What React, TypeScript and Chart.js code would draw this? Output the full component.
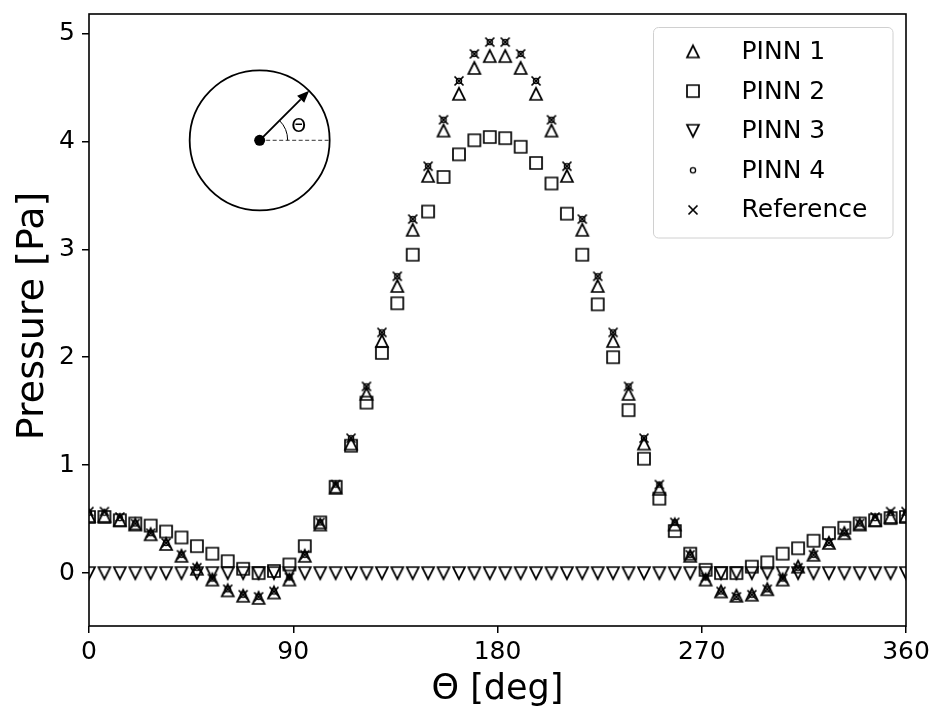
import React, { useEffect, useRef } from "react";
import { Chart, registerables } from "chart.js";

Chart.register(...registerables);

// ---- data ----
const thetaDeg = [
  0, 6.79, 13.58, 20.38, 27.17, 33.96, 40.75, 47.55, 54.34, 61.13, 67.92, 74.72, 81.51, 88.3,
  95.09, 101.89, 108.68, 115.47, 122.26, 129.06, 135.85, 142.64, 149.43, 156.23, 163.02, 169.81, 176.6,
  183.4, 190.19, 196.98, 203.77, 210.57, 217.36, 224.15, 230.94, 237.74, 244.53, 251.32, 258.11, 264.91,
  271.7, 278.49, 285.28, 292.08, 298.87, 305.66, 312.45, 319.25, 326.04, 332.83, 339.62, 346.42, 353.21, 360,
];

const pinn1 = [
  0.53, 0.53, 0.49, 0.45, 0.36, 0.27, 0.16, 0.04, -0.06, -0.16, -0.21, -0.23, -0.18, -0.06,
  0.16, 0.45, 0.79, 1.2, 1.66, 2.15, 2.66, 3.18, 3.68, 4.1, 4.44, 4.68, 4.79,
  4.79, 4.68, 4.44, 4.1, 3.68, 3.18, 2.66, 2.15, 1.66, 1.2, 0.78, 0.45, 0.16,
  -0.06, -0.17, -0.21, -0.2, -0.15, -0.06, 0.06, 0.17, 0.28, 0.37, 0.45, 0.49, 0.52, 0.53,
];

const pinn2 = [
  0.52, 0.52, 0.49, 0.46, 0.44, 0.385, 0.33, 0.25, 0.18, 0.11, 0.04, 0.0, 0.02, 0.08,
  0.25, 0.47, 0.8, 1.18, 1.58, 2.04, 2.5, 2.95, 3.35, 3.67, 3.88, 4.01, 4.04,
  4.03, 3.95, 3.8, 3.61, 3.33, 2.95, 2.49, 2.0, 1.51, 1.06, 0.69, 0.39, 0.18,
  0.03, 0.0, 0.0, 0.06, 0.1, 0.18, 0.23, 0.3, 0.37, 0.42, 0.46, 0.49, 0.51, 0.52,
];

const pinn3 = [
  0, 0, 0, 0, 0, 0, 0, 0, 0, 0, 0, 0, 0, 0,
  0, 0, 0, 0, 0, 0, 0, 0, 0, 0, 0, 0, 0,
  0, 0, 0, 0, 0, 0, 0, 0, 0, 0, 0, 0, 0,
  0, 0, 0, 0, 0, 0, 0, 0, 0, 0, 0, 0, 0, 0,
];

const pinn4 = [
  0.56, 0.56, 0.51, 0.46, 0.37, 0.28, 0.17, 0.05, -0.05, -0.15, -0.2, -0.22, -0.17, -0.04,
  0.17, 0.47, 0.82, 1.25, 1.73, 2.23, 2.75, 3.28, 3.77, 4.2, 4.56, 4.81, 4.92,
  4.92, 4.81, 4.56, 4.2, 3.77, 3.28, 2.75, 2.23, 1.73, 1.25, 0.82, 0.47, 0.17,
  -0.04, -0.17, -0.22, -0.2, -0.15, -0.05, 0.05, 0.17, 0.28, 0.37, 0.46, 0.51, 0.56, 0.56,
];

const reference = [
  0.57, 0.57, 0.52, 0.46, 0.37, 0.28, 0.17, 0.05, -0.05, -0.15, -0.2, -0.22, -0.17, -0.04,
  0.17, 0.47, 0.82, 1.25, 1.73, 2.23, 2.75, 3.28, 3.77, 4.2, 4.56, 4.81, 4.92,
  4.92, 4.81, 4.56, 4.2, 3.77, 3.28, 2.75, 2.23, 1.73, 1.25, 0.82, 0.47, 0.17,
  -0.04, -0.17, -0.22, -0.2, -0.15, -0.05, 0.05, 0.17, 0.28, 0.37, 0.46, 0.52, 0.57, 0.57,
];

const seriesLabels = ["PINN 1", "PINN 2", "PINN 3", "PINN 4", "Reference"];
const seriesMarkers = ["triUp", "square", "triDown", "circle", "cross"];
const xTicks = [0, 90, 180, 270, 360];
const yTicks = [0, 1, 2, 3, 4, 5];
const xLimits = [0, 360];
const yLimits = [-0.49, 5.18];
const xTitle = "Θ [deg]";
const yTitle = "Pressure [Pa]";
const insetLabel = "Θ";
const insetCenter = [75.2, 4.01];

const FONT = "'DejaVu Sans', sans-serif";

function makeMarker(kind: string): HTMLCanvasElement {
  const s = 22;
  const c = document.createElement("canvas");
  c.width = s;
  c.height = s;
  const ctx = c.getContext("2d")!;
  const m = s / 2;
  ctx.strokeStyle = "#000";
  ctx.lineWidth = 1.7;
  ctx.lineJoin = "miter";
  ctx.beginPath();
  if (kind === "triUp") {
    const h = 6;
    ctx.moveTo(m, m - h);
    ctx.lineTo(m - h, m + h);
    ctx.lineTo(m + h, m + h);
    ctx.closePath();
  } else if (kind === "triDown") {
    const h = 6;
    ctx.moveTo(m, m + h);
    ctx.lineTo(m - h, m - h);
    ctx.lineTo(m + h, m - h);
    ctx.closePath();
  } else if (kind === "square") {
    const h = 6;
    ctx.rect(m - h, m - h, 2 * h, 2 * h);
  } else if (kind === "circle") {
    ctx.lineWidth = 1.3;
    ctx.arc(m, m, 2.6, 0, Math.PI * 2);
  } else if (kind === "cross") {
    const h = 4.5;
    ctx.moveTo(m - h, m - h);
    ctx.lineTo(m + h, m + h);
    ctx.moveTo(m - h, m + h);
    ctx.lineTo(m + h, m - h);
  }
  ctx.stroke();
  return c;
}

export default function App() {
  const canvasRef = useRef<HTMLCanvasElement | null>(null);

  useEffect(() => {
    const canvas = canvasRef.current;
    if (!canvas) return;
    const markers = seriesMarkers.map((k) => makeMarker(k));
    const values = [pinn1, pinn2, pinn3, pinn4, reference];

    const datasets = values.map((vals, i) => ({
      label: seriesLabels[i],
      data: thetaDeg.map((x, j) => ({ x, y: vals[j] })),
      pointStyle: markers[i],
      pointRadius: 7,
      pointHoverRadius: 7,
      showLine: false,
      order: values.length - i,
    }));

    const framePlugin = {
      id: "frame",
      afterDraw(chart: any) {
        const { ctx, chartArea: a } = chart;
        ctx.save();
        ctx.strokeStyle = "#000";
        ctx.lineWidth = 1.6;
        ctx.strokeRect(a.left, a.top, a.right - a.left, a.bottom - a.top);
        ctx.restore();
      },
    };

    const titlePlugin = {
      id: "titles",
      afterDraw(chart: any) {
        const { ctx, chartArea: a } = chart;
        ctx.save();
        ctx.fillStyle = "#000";
        ctx.textAlign = "center";
        ctx.textBaseline = "middle";
        ctx.font = `35px ${FONT}`;
        ctx.fillText(xTitle, (a.left + a.right) / 2, 690);
        ctx.font = `38px ${FONT}`;
        ctx.translate(33, (a.top + a.bottom) / 2 - 4);
        ctx.rotate(-Math.PI / 2);
        ctx.fillText(yTitle, 0, 0);
        ctx.restore();
      },
    };

    const insetPlugin = {
      id: "inset",
      afterDraw(chart: any) {
        const { ctx } = chart;
        const xs = chart.scales.x;
        const ys = chart.scales.y;
        const cx = xs.getPixelForValue(insetCenter[0]);
        const cy = ys.getPixelForValue(insetCenter[1]);
        const R = 70;
        ctx.save();
        ctx.strokeStyle = "#000";
        ctx.lineWidth = 1.8;
        ctx.beginPath();
        ctx.arc(cx, cy, R, 0, Math.PI * 2);
        ctx.stroke();
        ctx.lineWidth = 1;
        ctx.strokeStyle = "#333";
        ctx.setLineDash([4, 2.5]);
        ctx.beginPath();
        ctx.moveTo(cx, cy);
        ctx.lineTo(cx + R, cy);
        ctx.stroke();
        ctx.setLineDash([]);
        ctx.strokeStyle = "#000";
        ctx.beginPath();
        ctx.arc(cx, cy, 28, -Math.PI / 4, 0);
        ctx.stroke();
        const ang = -Math.PI / 4;
        const tx = cx + R * Math.cos(ang);
        const ty = cy + R * Math.sin(ang);
        const headL = 12;
        const headW = 5;
        const bx = tx - headL * Math.cos(ang);
        const by = ty - headL * Math.sin(ang);
        ctx.lineWidth = 1.8;
        ctx.beginPath();
        ctx.moveTo(cx, cy);
        ctx.lineTo(bx, by);
        ctx.stroke();
        ctx.fillStyle = "#000";
        ctx.beginPath();
        ctx.moveTo(tx, ty);
        ctx.lineTo(bx + headW * Math.sin(ang), by - headW * Math.cos(ang));
        ctx.lineTo(bx - headW * Math.sin(ang), by + headW * Math.cos(ang));
        ctx.closePath();
        ctx.fill();
        ctx.beginPath();
        ctx.arc(cx, cy, 5.5, 0, Math.PI * 2);
        ctx.fill();
        ctx.font = `19px ${FONT}`;
        ctx.textAlign = "center";
        ctx.textBaseline = "middle";
        ctx.fillText(insetLabel, cx + 39, cy - 13);
        ctx.restore();
      },
    };

    const legendPlugin = {
      id: "customLegend",
      afterDraw(chart: any) {
        const { ctx, chartArea: a } = chart;
        const bx = a.right - 252.5;
        const by = a.top + 13.5;
        const bw = 239.5;
        const bh = 210.5;
        ctx.save();
        ctx.beginPath();
        (ctx as any).roundRect(bx, by, bw, bh, 5);
        ctx.fillStyle = "rgba(255,255,255,0.8)";
        ctx.fill();
        ctx.strokeStyle = "#d0d0d0";
        ctx.lineWidth = 1;
        ctx.stroke();
        ctx.font = `25px ${FONT}`;
        ctx.fillStyle = "#000";
        ctx.textAlign = "left";
        ctx.textBaseline = "middle";
        seriesLabels.forEach((lab, i) => {
          const ry = by + 24 + i * 39.6;
          const mk = markers[i];
          ctx.drawImage(mk, bx + 39.5 - mk.width / 2, ry - mk.height / 2);
          ctx.fillText(lab, bx + 88, ry + 1);
        });
        ctx.restore();
      },
    };

    const tickFont = { family: FONT, size: 25 };

    const chart = new Chart(canvas, {
      type: "scatter",
      data: { datasets: datasets as any },
      options: {
        animation: false,
        responsive: true,
        maintainAspectRatio: false,
        layout: { padding: { top: 14, right: 28, left: 0, bottom: 0 } },
        plugins: { legend: { display: false }, tooltip: { enabled: false } },
        scales: {
          x: {
            type: "linear",
            min: xLimits[0],
            max: xLimits[1],
            afterBuildTicks: (s: any) => {
              s.ticks = xTicks.map((v) => ({ value: v }));
            },
            afterFit: (s: any) => {
              s.height = 84;
              s.paddingLeft = 0;
              s.paddingRight = 0;
            },
            grid: {
              display: true,
              drawOnChartArea: false,
              drawTicks: true,
              tickLength: 7,
              color: "#000",
              lineWidth: 1.5,
            },
            border: { display: false },
            ticks: { font: tickFont, color: "#000", padding: 4, maxRotation: 0 },
          },
          y: {
            type: "linear",
            min: yLimits[0],
            max: yLimits[1],
            afterBuildTicks: (s: any) => {
              s.ticks = yTicks.map((v) => ({ value: v }));
            },
            afterFit: (s: any) => {
              s.width = 89;
              s.paddingTop = 0;
              s.paddingBottom = 0;
            },
            grid: {
              display: true,
              drawOnChartArea: false,
              drawTicks: true,
              tickLength: 7,
              color: "#000",
              lineWidth: 1.5,
            },
            border: { display: false },
            ticks: { font: tickFont, color: "#000", padding: 7 },
          },
        },
      },
      plugins: [framePlugin, insetPlugin, legendPlugin, titlePlugin],
    });

    return () => {
      chart.destroy();
    };
  }, []);

  return (
    <div style={{ position: "fixed", left: 0, top: 0, width: 934, height: 710, background: "#fff" }}>
      <canvas ref={canvasRef} />
    </div>
  );
}
